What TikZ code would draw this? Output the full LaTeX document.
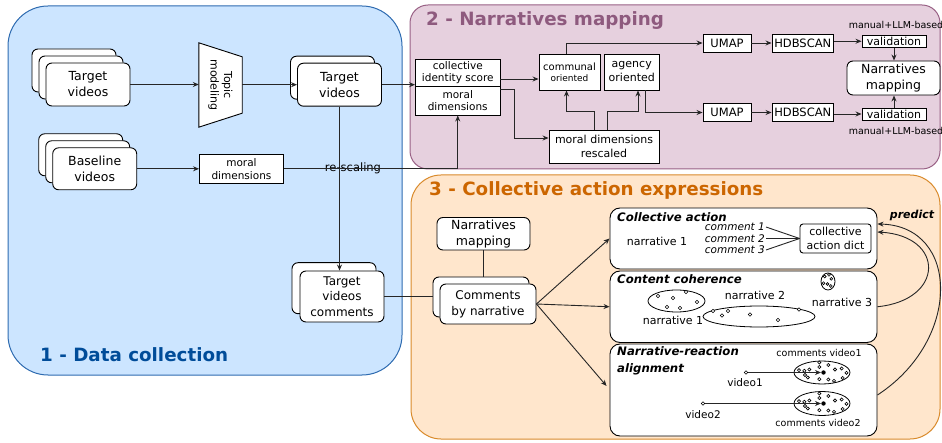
\documentclass[tikz,border=0pt]{standalone}
\usepackage{fontspec}
\setmainfont{DejaVu Sans}
\usetikzlibrary{arrows.meta,shapes.geometric,calc}
\definecolor{pafill}{HTML}{CCE5FF}
\definecolor{paline}{HTML}{2E6BB0}
\definecolor{patext}{HTML}{004C99}
\definecolor{pbfill}{HTML}{E6D0DE}
\definecolor{pbline}{HTML}{996185}
\definecolor{pbtext}{HTML}{8E5A7E}
\definecolor{pcfill}{HTML}{FFE6CC}
\definecolor{pcline}{HTML}{D98A2B}
\definecolor{pctext}{HTML}{CC6600}
\newcommand{\fsz}[2]{\fontsize{#1}{#2}\selectfont}
\tikzset{
  every node/.style={inner sep=1pt, align=center},
  box/.style={draw=black, fill=white, line width=0.9pt, inner sep=0pt},
  rbox/.style={box, rounded corners=6pt},
  bigbox/.style={box, rounded corners=10pt},
  conn/.style={line width=0.9pt, draw=black!85},
  arr/.style={conn, -{Stealth[length=6pt,width=5pt]}},
  dotc/.style={draw=black, fill=white, line width=0.6pt},
  ell/.style={ellipse, draw=black, line width=0.8pt, inner sep=0pt},
  ptitle/.style={anchor=west, font=\bfseries\fsz{18.3}{22}},
  subtitle/.style={anchor=west, font=\bfseries\itshape\fsz{11.7}{16.3}, align=left},
}
\begin{document}
\begin{tikzpicture}[x=1pt,y=-1pt]
\useasboundingbox (0,0) rectangle (942,443);
% panels
\draw[rounded corners=40pt, fill=pafill, draw=paline, line width=1pt] (8,6) rectangle (402,375);
\draw[rounded corners=18pt, fill=pbfill, draw=pbline, line width=1pt] (410,5) rectangle (940,169);
\draw[rounded corners=30pt, fill=pcfill, draw=pcline, line width=1pt] (411,175) rectangle (940,439);
\node[ptitle, text=patext] (t1) at (39,355) {1 - Data collection};
\node[ptitle, text=pbtext] (t2) at (425,21) {2 - Narratives mapping};
\node[ptitle, text=pctext] (t3) at (428,190) {3 - Collective action expressions};

% ---------- panel 1
\node[rbox, minimum width=84pt, minimum height=43pt] (tv1c) at (74,70.5) {};
\node[rbox, minimum width=84pt, minimum height=43pt] (tv1b) at (81,77.5) {};
\node[rbox, minimum width=84pt, minimum height=43pt, font=\fsz{12.5}{16}] (tv1) at (88,84.5) {Target\\videos};

\node[minimum width=43pt, minimum height=84pt, inner sep=0pt] (tm) at (220.5,85) {};
\draw[line width=0.9pt, fill=white] (tm.north west) -- (tm.south west) -- ($(tm.south east)+(0,-14)$) -- ($(tm.north east)+(0,14)$) -- cycle;
\node[rotate=-90, font=\fsz{11}{13.5}] (tmt) at (tm.center) {Topic\\modeling};

\node[rbox, minimum width=84pt, minimum height=43pt] (tv2b) at (332.5,77.7) {};
\node[rbox, minimum width=84pt, minimum height=43pt, font=\fsz{12.5}{16}] (tv2) at (339.5,84.7) {Target\\videos};

\node[rbox, minimum width=84pt, minimum height=42pt] (bvc) at (80.7,154.8) {};
\node[rbox, minimum width=84pt, minimum height=42pt] (bvb) at (87.7,161.8) {};
\node[rbox, minimum width=84pt, minimum height=42pt, font=\fsz{12.5}{16}] (bv) at (94.7,168.8) {Baseline\\videos};

\node[box, minimum width=84pt, minimum height=29pt, font=\fsz{10.5}{13}] (md1) at (241.5,168.7) {moral\\dimensions};

\node[rbox, minimum width=84pt, minimum height=51pt] (tvcb) at (334,288.2) {};
\node[rbox, minimum width=84pt, minimum height=51pt, font=\fsz{12}{15.5}] (tvc) at (342,296.5) {Target\\videos\\comments};

\draw[arr] (tv1) -- (tv1 -| tm.west);
\draw[arr] (tm.east |- tv2) -- (tv2.west);
\draw[arr] (bv) -- (bv -| md1.west);
\draw[arr] (tv2.south) -- (tv2.south |- tvc.north);
\node[font=\fsz{11.5}{14}] (rsl) at (353,168) {re-scaling};

% ---------- panel 2
\node[box, minimum width=84.5pt, minimum height=27pt, font=\fsz{10.5}{12.5}] (cis) at (457.75,72.5) {collective\\identity score};
\node[box, minimum width=84.5pt, minimum height=29pt, font=\fsz{10.5}{12.5}] (md2) at (457.75,100.5) {moral\\dimensions};
\node[box, minimum width=61pt, minimum height=36pt] (comm) at (569.5,72) {\fsz{10}{13}communal\\[-1pt]{\fsz{9}{11}oriented}};
\node[box, minimum width=54.5pt, minimum height=36pt, font=\fsz{11}{14}] (agen) at (631.75,72) {agency\\oriented};
\node[box, minimum width=110pt, minimum height=33pt, font=\fsz{11}{14}] (resc) at (604,146.5) {moral dimensions\\rescaled};
\node[box, minimum width=48pt, minimum height=18pt, font=\fsz{11.5}{14}] (um1) at (727,43) {UMAP};
\node[box, minimum width=61.5pt, minimum height=18pt, font=\fsz{11.5}{14}] (hd1) at (802.75,43) {HDBSCAN};
\node[box, minimum width=64pt, minimum height=12.5pt, font=\fsz{11}{13}] (va1) at (894,41.25) {validation};
\node[font=\fsz{9.5}{11}] (lab1) at (896,25) {manual+LLM-based};
\node[rbox, minimum width=93pt, minimum height=34pt, font=\fsz{12.5}{16}] (nm2) at (893.5,78) {Narratives\\mapping};
\node[box, minimum width=48pt, minimum height=18pt, font=\fsz{11.5}{14}] (um2) at (727,112.5) {UMAP};
\node[box, minimum width=61.5pt, minimum height=18pt, font=\fsz{11.5}{14}] (hd2) at (802.75,112.5) {HDBSCAN};
\node[box, minimum width=64pt, minimum height=12pt, font=\fsz{11}{13}] (va2) at (894,114) {validation};
\node[font=\fsz{9.5}{11}] (lab2) at (896,130.5) {manual+LLM-based};

\draw[arr] (tv2.east) -- (tv2.east -| cis.west);
\draw[arr] ($(cis.east)+(0,6.5)$) -- ($(comm.west)+(0,7)$);
\coordinate (k1) at (514,138);
\draw[arr] ($(md2.north east)+(0,4)$) -| (k1) -- (k1 -| resc.west);
\draw[arr] ($(resc.north)+(-10,0)$) |- ($(comm.south)+(-3,21.5)$) -- ($(comm.south)+(-3,0)$);
\draw[arr] ($(resc.north)+(3,0)$) |- ($(agen.south)+(6.25,21.5)$) -- ($(agen.south)+(6.25,0)$);
\draw[arr] ($(comm.north)+(-3,0)$) |- (um1.west);
\draw[arr] (um1) -- (hd1);
\draw[arr] (va1.west -| hd1.east) -- (va1.west);
\draw[arr] (va1.south) -- (va1.south |- nm2.north);
\draw[arr] ($(agen.south)+(13.75,0)$) |- (um2.west);
\draw[arr] (um2) -- (hd2);
\draw[arr] (va2.west -| hd2.east) -- (va2.west);
\draw[arr] (va2.north) -- (va2.north |- nm2.south);
\draw[arr] (md1.east) -| (md2.south);

% ---------- panel 3
\node[rbox, minimum width=93pt, minimum height=32.5pt, font=\fsz{12.5}{16}] (nm3) at (483.5,233.75) {Narratives\\mapping};
\node[rbox, minimum width=96pt, minimum height=40pt] (cbnb) at (481,297) {};
\node[rbox, minimum width=96pt, minimum height=40pt, font=\fsz{12}{16}] (cbn) at (488,304) {Comments\\by narrative};
\draw[conn] (tvc.east) -- (tvc.east -| cbnb.west);
\draw[conn] (nm3.south) -- (nm3.south |- cbnb.north);

\node[bigbox, minimum width=267pt, minimum height=61pt] (ca) at (743.5,238.5) {};
\node[bigbox, minimum width=267pt, minimum height=71.5pt] (cc) at (743.5,306.75) {};
\node[bigbox, minimum width=267pt, minimum height=92pt] (nr) at (743.5,390) {};
\draw[arr] (cbn.east) -- (ca.west);
\draw[arr] (cbn.east) -- (cc.west);
\draw[arr] (cbn.east) -- ($(nr.west)+(-3,-4)$);

% collective action
\node[subtitle] (cat) at (616,217) {Collective action};
\node[font=\fsz{11}{13}] (n1a) at (657,241) {narrative 1};
\node[anchor=east, font=\itshape\fsz{10.5}{12}] (c1) at (766,227) {comment 1};
\node[anchor=east, font=\itshape\fsz{10.5}{12}] (c2) at (766,238.5) {comment 2};
\node[anchor=east, font=\itshape\fsz{10.5}{12}] (c3) at (766,250) {comment 3};
\node[box, rounded corners=3pt, minimum width=71pt, minimum height=29pt, font=\fsz{11}{13.5}] (dict) at (835.5,238.5) {collective\\action dict};
\draw[conn] (c1.east) -- (dict.west);
\draw[conn] (c2.east) -- (dict.west);
\draw[conn] (c3.east) -- (dict.west);
\node[font=\bfseries\itshape\fsz{11}{13}] (pred) at (912,215) {predict};
\draw[arr] (cc.east) .. controls (945,300) and (945,236) .. ($(ca.east)+(0,-6.5)$);
\draw[arr] ($(nr.east)+(0,5)$) .. controls (962,340) and (960,226) .. ($(ca.east)+(0,-14.5)$);

% content coherence
\node[subtitle] (cct) at (616,279) {Content coherence};
\node[ell, minimum width=57pt, minimum height=22pt] (el1) at (676.5,301) {};
\node[ell, minimum width=112pt, minimum height=21pt] (el2) at (759,316.5) {};
\node[ell, minimum width=14pt, minimum height=17pt] (el3) at (828,281.5) {};
\node[font=\fsz{11}{13}] (n1c) at (673,320.5) {narrative 1};
\node[font=\fsz{11}{13}] (n2c) at (755,295) {narrative 2};
\node[font=\fsz{11}{13}] (n3c) at (842,302) {narrative 3};
\foreach \p in {(658,296),(673,298),(686,292),(697,302),(667,307),(680,308),
  (713,311),(722,315.5),(728,311),(750,314.5),(778,320),(799,309.5)}
  \draw[dotc] \p circle (1.7);
\foreach \p in {(824.7,276.5),(829,274.8),(831.3,278.8),(823.5,283.2),(827.5,284),(830.8,286)}
  \draw[dotc] \p circle (1.4);

% narrative-reaction alignment
\node[subtitle] (nrt) at (616,360.8) {Narrative-reaction\\alignment};
\node[ell, minimum width=56pt, minimum height=23pt] (ev1) at (822,372.5) {};
\node[ell, minimum width=56pt, minimum height=24pt] (ev2) at (822,403.5) {};
\node[font=\fsz{9.5}{11}] (cv1) at (819,353) {comments video1};
\node[font=\fsz{9.5}{11}] (cv2) at (818,422.5) {comments video2};
\foreach \dx/\dy in {-23/-2.3,-17.7/-1.7,-12.7/-3,-17/2.5,-14.2/5,-2.7/-10,-2.7/-5.5,-2.7/6.7,6.3/-7.5,6.3/7,12/8.3,13/-3,19.7/-4,20.7/5.5,24.5/0.3}{
  \draw[dotc] ($(ev1.center)+(\dx,\dy)$) circle (1.6);
  \draw[dotc] ($(ev2.center)+(\dx,\dy)$) circle (1.6);
}
\node[circle, draw=black, fill=white, line width=0.6pt, inner sep=0pt, minimum size=3.5pt] (v1) at (746,372.5) {};
\node[circle, draw=black, fill=white, line width=0.6pt, inner sep=0pt, minimum size=3.5pt] (v2) at (703,403.5) {};
\node[font=\fsz{10.5}{12}] (v1l) at (745,383) {video1};
\node[font=\fsz{10.5}{12}] (v2l) at (703,415) {video2};
\draw[arr] (v1) -- ($(ev1.center)+(-1,0)$);
\draw[arr] (v2) -- ($(ev2.center)+(-1,0)$);
\fill ($(ev1.center)+(1.5,0)$) circle (2.2);
\fill ($(ev2.center)+(1.5,0)$) circle (2.2);
\end{tikzpicture}
\end{document}
